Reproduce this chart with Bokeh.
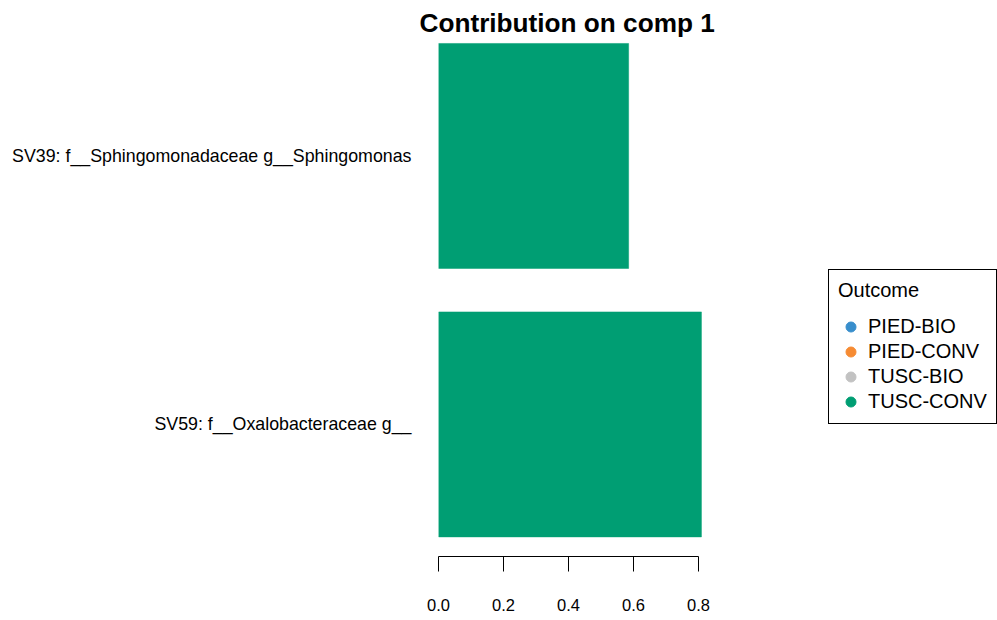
from bokeh.plotting import figure
from bokeh.models import (ColumnDataSource, Range1d, FixedTicker,
                          Legend, LegendItem)
from bokeh.embed import file_html
from bokeh.resources import INLINE

# ---- data ----
names = ["SV39: f__Sphingomonadaceae g__Sphingomonas",
         "SV59: f__Oxalobacteraceae g__"]
contrib = [0.585, 0.809]
bar_outcome = ["TUSC-CONV", "TUSC-CONV"]
outcomes = ["PIED-BIO", "PIED-CONV", "TUSC-BIO", "TUSC-CONV"]
outcome_colors = ["#388ECC", "#F68B33", "#C2C2C2", "#009E73"]
x_ticks = [0.0, 0.2, 0.4, 0.6, 0.8]
x_tick_labels = ["0.0", "0.2", "0.4", "0.6", "0.8"]
title_text = "Contribution on comp 1"

FONT = "Liberation Sans"
cmap = dict(zip(outcomes, outcome_colors))
n = len(names)
y_pos = [n - i for i in range(n)]          # first name on top

p = figure(width=997, height=616, output_backend="svg", toolbar_location=None,
           y_range=Range1d(0.508, 2.430), x_range=Range1d(0, 1.72),
           min_border_left=438, min_border_right=0, min_border_top=40,
           min_border_bottom=60)
p.outline_line_color = None
p.xgrid.visible = False
p.ygrid.visible = False
p.background_fill_color = "white"
p.border_fill_color = "white"

p.title.text = title_text
p.title.align = "left"
p.title.vertical_align = "top"
p.title.offset = -19
p.title.standoff = 2
p.title.text_font = FONT
p.title.text_font_size = "26.2px"
p.title.text_font_style = "bold"
p.title.text_color = "black"

src = ColumnDataSource(dict(y=y_pos, right=contrib,
                            color=[cmap[o] for o in bar_outcome]))
p.hbar(y="y", left=0, right="right", height=0.838, fill_color="color",
       line_color="color", line_width=0.5, source=src)

# x axis
xa = p.xaxis[0]
xa.ticker = FixedTicker(ticks=x_ticks)
xa.major_label_overrides = {t: l for t, l in zip(x_ticks, x_tick_labels)}
xa.bounds = (0, 0.8)
xa.axis_line_color = "black"
xa.major_tick_line_color = "black"
xa.minor_tick_line_color = None
xa.major_tick_in = 0
xa.major_tick_out = 15
xa.major_label_standoff = 27
xa.major_label_text_font = FONT
xa.major_label_text_font_size = "16.5px"
xa.major_label_text_color = "black"

# y axis (category labels)
ya = p.yaxis[0]
ya.ticker = FixedTicker(ticks=y_pos)
ya.major_label_overrides = {y: nm for y, nm in zip(y_pos, names)}
ya.axis_line_color = None
ya.major_tick_line_color = None
ya.minor_tick_line_color = None
ya.major_tick_in = 0
ya.major_tick_out = 0
ya.major_label_standoff = 27
ya.major_label_text_font = FONT
ya.major_label_text_font_size = "17.8px"
ya.major_label_text_color = "black"

# legend
items = []
for o, c in zip(outcomes, outcome_colors):
    r = p.scatter(x=[float("nan")], y=[float("nan")], marker="circle",
                  color=c, size=10)
    items.append(LegendItem(label=o, renderers=[r]))
leg = Legend(items=items, location=(390, 132), title="Outcome",
             title_text_font=FONT, title_text_font_size="20px",
             title_text_font_style="normal", title_text_color="black",
             title_standoff=12,
             label_text_font=FONT, label_text_font_size="20px",
             label_text_color="black",
             glyph_width=25, glyph_height=25, label_height=25,
             label_standoff=5, padding=9, spacing=0, margin=0,
             border_line_color="black", border_line_width=1,
             border_line_alpha=1,
             background_fill_color="white", background_fill_alpha=1)
p.add_layout(leg)

open("out.html", "w").write(file_html(p, INLINE))
